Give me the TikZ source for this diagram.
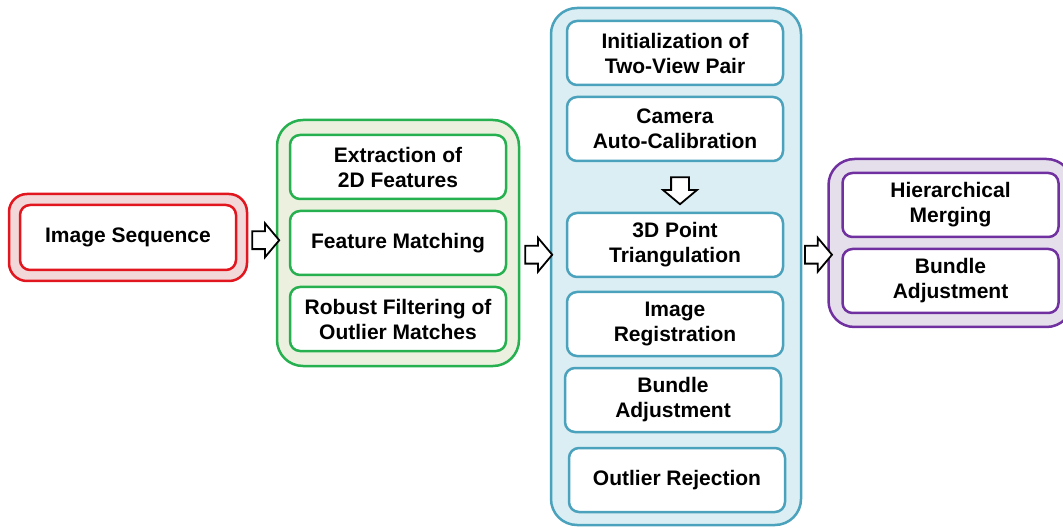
\documentclass[tikz,border=0pt]{standalone}
\usepackage{fontspec}
\setmainfont{Liberation Sans}
\usetikzlibrary{calc,positioning,shapes.arrows,fit,backgrounds}

\definecolor{redline}{RGB}{226,22,30}
\definecolor{redfill}{RGB}{242,216,216}
\definecolor{greenline}{RGB}{38,176,80}
\definecolor{greenfill}{RGB}{235,241,222}
\definecolor{blueline}{RGB}{75,162,188}
\definecolor{bluefill}{RGB}{218,238,243}
\definecolor{purpleline}{RGB}{112,48,160}
\definecolor{purplefill}{RGB}{229,223,236}

\tikzset{
    stage/.style={draw, line width=2.5pt, fill=white, rounded corners=10pt,
        minimum width=216pt, minimum height=64pt, align=center, outer sep=0pt,
        font=\bfseries\fontsize{21}{25}\selectfont},
    group/.style={line width=2.5pt, rounded corners=26pt},
    flow/.style={draw, line width=1.8pt, fill=white, single arrow,
        single arrow head extend=8pt, single arrow tip angle=100,
        inner xsep=0pt, inner ysep=8pt, minimum height=27pt},
}

\begin{document}
\begin{tikzpicture}[x=1pt, y=-1pt]
    \useasboundingbox (0,0) rectangle (1063,529);

    % input
    \node [stage, draw=redline, minimum height=65pt] (sequence) at (128,237.5) {Image Sequence};

    % feature stage
    \node [stage, draw=greenline] (extraction) at (398,167) {Extraction of\\2D Features};
    \node [stage, draw=greenline, below=12pt of extraction] (matching) {Feature Matching};
    \node [stage, draw=greenline, below=12pt of matching] (filtering) {Robust Filtering of\\Outlier Matches};

    % incremental reconstruction
    \node [stage, draw=blueline] (initialization) at (675,53) {Initialization of\\Two-View Pair};
    \node [stage, draw=blueline, below=12pt of initialization] (calibration) {Camera\\Auto-Calibration};
    \node [stage, draw=blueline] (triangulation) at (675,245) {3D Point\\Triangulation};
    \node [stage, draw=blueline, below=15pt of triangulation] (registration) {Image\\Registration};
    \node [stage, draw=blueline, below=12pt of registration, xshift=-2pt] (adjustment) {Bundle\\Adjustment};
    \node [stage, draw=blueline, below=16pt of adjustment, xshift=4pt] (rejection) {Outlier Rejection};

    % merging stage
    \node [stage, draw=purpleline] (merging) at (950.5,205) {Hierarchical\\Merging};
    \node [stage, draw=purpleline, below=12pt of merging] (final_adjustment) {Bundle\\Adjustment};

    \begin{scope}[on background layer]
        \node [group, draw=redline, fill=redfill, inner sep=11pt, rounded corners=18pt, fit=(sequence)] (input_group) {};
        \node [group, draw=greenline, fill=greenfill, inner xsep=13pt, inner ysep=15pt, fit=(extraction)(filtering)] (feature_group) {};
        \node [group, draw=blueline, fill=bluefill, inner xsep=16pt, inner ysep=13pt, fit=(initialization)(rejection)] (sfm_group) {};
        \node [group, draw=purpleline, fill=purplefill, inner sep=14pt, fit=(merging)(final_adjustment)] (merge_group) {};
    \end{scope}

    \node [flow] (arrow_a) at ($(input_group.east)!.5!(feature_group.west)$) {};
    \node [flow] (arrow_b) at ($(feature_group.east)!.5!(sfm_group.west)$) {};
    \node [flow] (arrow_c) at ($(sfm_group.east)!.5!(merge_group.west)$) {};
    \node [flow, shape border rotate=270, inner xsep=8pt, inner ysep=0pt, xshift=5pt] (arrow_down) at ($(calibration.south)!.5!(triangulation.north)$) {};
\end{tikzpicture}
\end{document}
